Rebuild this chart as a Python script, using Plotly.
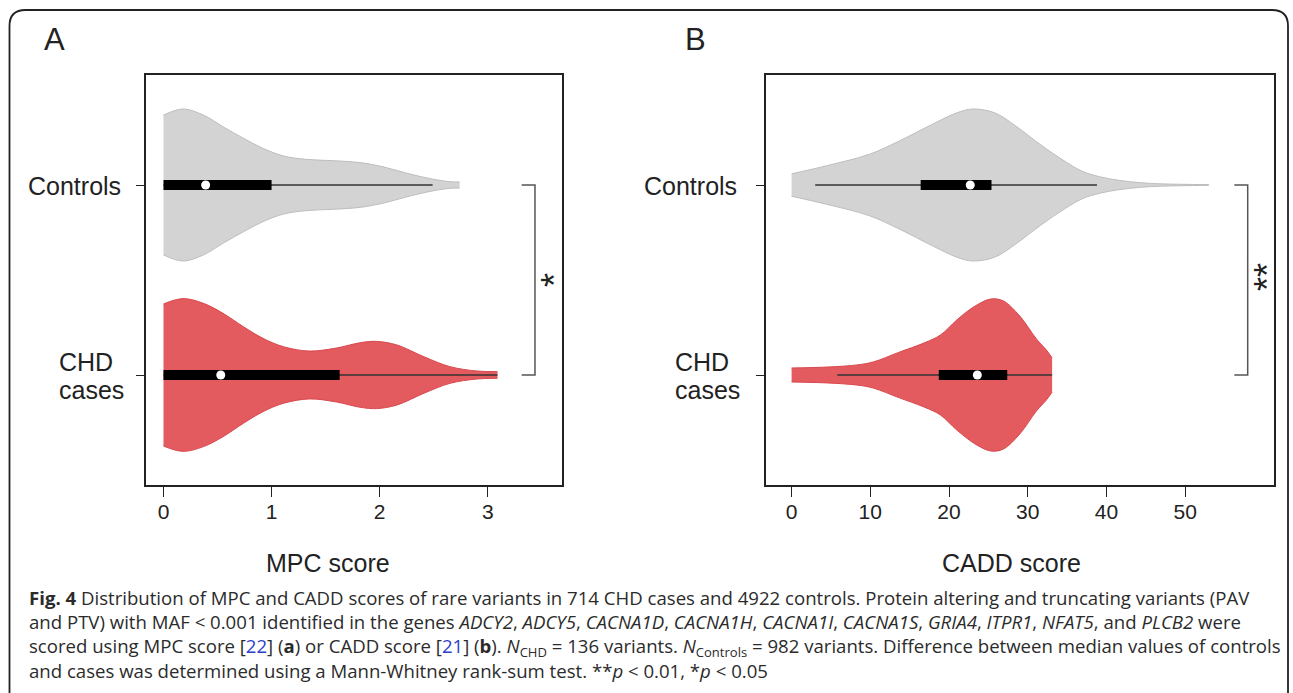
import plotly.graph_objects as go

W, H = 1293, 693

# ---------------- data ----------------
categories = ["CHD<br>cases", "Controls"]
cat_pos = [1, 2]

# Panel A: MPC score – violin outline (score grid, half-width in category units)
mpc_ctrl_x = [0, 0.18, 0.37, 0.55, 0.74, 0.92, 1.11, 1.32, 1.57, 1.82, 2.03, 2.28, 2.50, 2.65, 2.74]
mpc_ctrl_w = [0.368, 0.40, 0.368, 0.307, 0.246, 0.193, 0.153, 0.135, 0.128, 0.118, 0.096, 0.058, 0.030, 0.0175, 0.016]
mpc_chd_x = [0, 0.18, 0.37, 0.55, 0.74, 0.92, 1.11, 1.35, 1.60, 1.82, 1.97, 2.16, 2.41, 2.65, 2.90, 3.09]
mpc_chd_w = [0.374, 0.402, 0.377, 0.325, 0.254, 0.193, 0.149, 0.126, 0.142, 0.170, 0.177, 0.158, 0.096, 0.044, 0.021, 0.0175]
# box stats: whisker low, Q1, median, Q3, whisker high
mpc_ctrl_box = [0.0, 0.0, 0.39, 1.0, 2.49]
mpc_chd_box = [0.0, 0.0, 0.53, 1.63, 3.09]

# Panel B: CADD score
cadd_ctrl_x = [0, 4.6, 9.9, 13.6, 17.9, 21.0, 23.0, 25.8, 28.5, 31.7, 34.8, 36.9, 39.1, 41.7, 44.4, 47.0, 53.0]
cadd_ctrl_w = [0.059, 0.103, 0.162, 0.23, 0.32, 0.38, 0.40, 0.38, 0.31, 0.21, 0.123, 0.073, 0.044, 0.024, 0.012, 0.006, 0.002]
cadd_chd_x = [0, 4.6, 8.3, 10.4, 13.6, 16.8, 18.9, 21.0, 23.2, 25.3, 26.9, 29.0, 31.1, 32.4, 33.1]
cadd_chd_w = [0.037, 0.042, 0.053, 0.069, 0.119, 0.168, 0.21, 0.29, 0.36, 0.40, 0.39, 0.31, 0.19, 0.13, 0.09]
cadd_ctrl_box = [3.0, 16.4, 22.7, 25.4, 38.8]
cadd_chd_box = [5.8, 18.7, 23.6, 27.4, 33.1]

mpc_ticks = [0, 1, 2, 3]
cadd_ticks = [0, 10, 20, 30, 40, 50]
significance = ["*", "**"]

# ---------------- styles ----------------
GREY_FILL, GREY_LINE = "#D3D3D3", "#BDBDBD"
RED_FILL, RED_LINE = "#E35B5F", "#D8484D"
INK = "#222222"
FONT = "Liberation Sans, Arial, sans-serif"


def px(x):
    return x / W


def py(y):
    return 1 - y / H


fig = go.Figure()


def add_violin(xs, ws, center, fill, line, box, xa, ya):
    lo = [center - w for w in ws]
    hi = [center + w for w in ws]
    common = dict(mode="lines", line=dict(color=line, width=1, shape="spline", smoothing=1.0),
                  xaxis=xa, yaxis=ya, hoverinfo="skip", showlegend=False)
    fig.add_trace(go.Scatter(x=xs, y=lo, **common))
    fig.add_trace(go.Scatter(x=xs, y=hi, fill="tonexty", fillcolor=fill, **common))
    wlo, q1, med, q3, whi = box
    fig.add_trace(go.Scatter(x=[wlo, whi], y=[center, center], mode="lines",
                             line=dict(color="#333333", width=1.3), xaxis=xa, yaxis=ya,
                             hoverinfo="skip", showlegend=False))
    fig.add_trace(go.Scatter(x=[q1, q3], y=[center, center], mode="lines",
                             line=dict(color="black", width=10), xaxis=xa, yaxis=ya,
                             hoverinfo="skip", showlegend=False))
    fig.add_trace(go.Scatter(x=[med], y=[center], mode="markers",
                             marker=dict(color="white", size=9, line=dict(width=0)),
                             xaxis=xa, yaxis=ya, hoverinfo="skip", showlegend=False))


add_violin(mpc_ctrl_x, mpc_ctrl_w, cat_pos[1], GREY_FILL, GREY_LINE, mpc_ctrl_box, "x", "y")
add_violin(mpc_chd_x, mpc_chd_w, cat_pos[0], RED_FILL, RED_LINE, mpc_chd_box, "x", "y")
add_violin(cadd_ctrl_x, cadd_ctrl_w, cat_pos[1], GREY_FILL, GREY_LINE, cadd_ctrl_box, "x2", "y2")
add_violin(cadd_chd_x, cadd_chd_w, cat_pos[0], RED_FILL, RED_LINE, cadd_chd_box, "x2", "y2")

# significance brackets (data coordinates)
brackets = [("x", "y", 3.314, 3.437), ("x2", "y2", 56.25, 57.95)]
for xa, ya, xin, xout in brackets:
    fig.add_trace(go.Scatter(x=[xin, xout, xout, xin], y=[cat_pos[1], cat_pos[1], cat_pos[0], cat_pos[0]],
                             mode="lines", line=dict(color="#555555", width=1.5),
                             xaxis=xa, yaxis=ya, hoverinfo="skip", showlegend=False))

axis_common = dict(showgrid=False, zeroline=False, showline=True, mirror=True,
                   linecolor=INK, linewidth=1.5, ticks="outside", tickcolor=INK,
                   tickwidth=1.2, tickfont=dict(family=FONT, size=21, color=INK))

ydom = [py(485), py(75)]
fig.update_layout(
    width=W, height=H, autosize=False,
    margin=dict(l=0, r=0, t=0, b=0),
    paper_bgcolor="white", plot_bgcolor="white",
    showlegend=False,
    xaxis=dict(domain=[px(146.3), px(562)], range=[-0.159, 3.687], tickvals=mpc_ticks,
               ticklen=10, ticklabelstandoff=-3, anchor="y", **axis_common),
    yaxis=dict(domain=ydom, range=[0.421, 2.579], tickvals=cat_pos, showticklabels=False,
               ticklen=9, anchor="x", **axis_common),
    xaxis2=dict(domain=[px(766.4), px(1274.3)], range=[-3.2, 61.33], tickvals=cadd_ticks,
                ticklen=10, ticklabelstandoff=-3, anchor="y2", **axis_common),
    yaxis2=dict(domain=ydom, range=[0.421, 2.579], tickvals=cat_pos, showticklabels=False,
                ticklen=9, anchor="x2", **axis_common),
)

# outer rounded frame
frame = (f"M {px(9.5)},{py(720)} L {px(9.5)},{py(26)} Q {px(9.5)},{py(10)} {px(25.5)},{py(10)} "
         f"L {px(1272)},{py(10)} Q {px(1288)},{py(10)} {px(1288)},{py(26)} L {px(1288)},{py(720)}")
fig.add_shape(type="path", path=frame, xref="paper", yref="paper",
              line=dict(color=INK, width=1.8))

ann = []


def text(x, y, s, size, xanchor="center", yanchor="middle", family=FONT, color=INK, **kw):
    ann.append(dict(x=px(x), y=py(y), xref="paper", yref="paper", text=s, showarrow=False,
                    xanchor=xanchor, yanchor=yanchor, font=dict(family=family, size=size, color=color), **kw))


# panel letters
text(54, 39.5, "A", 31)
text(695, 39.5, "B", 31)

# category labels
for xr, xl in [(122.6, 57.2), (739.1, 673.3)]:
    text(xr, 185.9, categories[1], 25, xanchor="right")
    text(xl, 361.9, categories[0].split("<br>")[0], 25, xanchor="left")
    text(xl, 390.1, categories[0].split("<br>")[1], 25, xanchor="left")

# axis titles
text(327.7, 562.5, "MPC score", 25)
text(1011.7, 562.5, "CADD score", 25)

# significance stars
text(555, 280, significance[0], 36, textangle=-90)
text(1267, 277, significance[1], 36, textangle=-90)

# caption
CAP = "Open Sans, Noto Sans, sans-serif"
LINK = "#2E3ECF"
CAP_SIZE = 18.6
cap_lines = [
    "<b>Fig. 4</b> Distribution of MPC and CADD scores of rare variants in 714 CHD cases and 4922 controls. "
    "Protein altering and truncating variants (PAV",
    "and PTV) with MAF &lt; 0.001 identified in the genes <i>ADCY2</i>, <i>ADCY5</i>, <i>CACNA1D</i>, "
    "<i>CACNA1H</i>, <i>CACNA1I</i>, <i>CACNA1S</i>, <i>GRIA4</i>, <i>ITPR1</i>, <i>NFAT5</i>, and <i>PLCB2</i> were",
    f"scored using MPC score [<span style='color:{LINK}'>22</span>] (<b>a</b>) or CADD score "
    f"[<span style='color:{LINK}'>21</span>] (<b>b</b>). <i>N</i><sub>CHD</sub> = 136 variants. "
    "<i>N</i><sub>Controls</sub> = 982 variants. Difference between median values of controls",
    "and cases was determined using a Mann-Whitney rank-sum test. **<i>p</i> &lt; 0.01, *<i>p</i> &lt; 0.05",
]
first_baseline = 603
text(27, first_baseline - 1.069 * CAP_SIZE, "<br>".join(cap_lines), CAP_SIZE,
     xanchor="left", yanchor="top", family=CAP, color="#2B2B2B", align="left")

fig.update_layout(annotations=ann)
fig.write_html("out.html")
